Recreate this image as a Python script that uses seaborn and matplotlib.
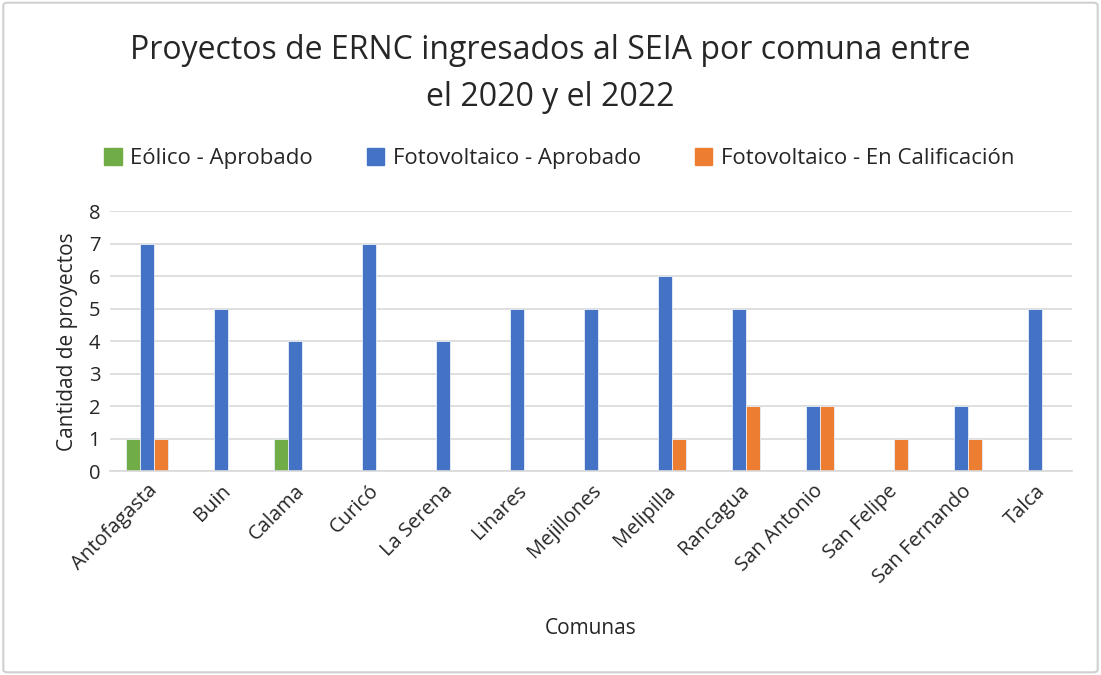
import matplotlib
matplotlib.use("Agg")
import matplotlib.pyplot as plt
from matplotlib.patches import FancyBboxPatch
import seaborn as sns
import pandas as pd

comunas = ["Antofagasta", "Buin", "Calama", "Curicó", "La Serena", "Linares",
           "Mejillones", "Melipilla", "Rancagua", "San Antonio", "San Felipe",
           "San Fernando", "Talca"]
eolico_aprobado = [1, 0, 1, 0, 0, 0, 0, 0, 0, 0, 0, 0, 0]
fv_aprobado = [7, 5, 4, 7, 4, 5, 5, 6, 5, 2, 0, 2, 5]
fv_calificacion = [1, 0, 0, 0, 0, 0, 0, 1, 2, 2, 1, 1, 0]
series = ["Eólico - Aprobado", "Fotovoltaico - Aprobado", "Fotovoltaico - En Calificación"]
colors = ["#70AD47", "#4472C4", "#ED7D31"]

rows = []
for name, vals in zip(series, [eolico_aprobado, fv_aprobado, fv_calificacion]):
    for c, v in zip(comunas, vals):
        rows.append({"Comuna": c, "Serie": name, "Proyectos": v})
df = pd.DataFrame(rows)

sns.set_theme(style="white")
plt.rcParams["font.family"] = ["Open Sans", "DejaVu Sans"]
text_color = "#262626"

fig = plt.figure(figsize=(11.01, 6.75), dpi=100)
ax = fig.add_axes([0.0999, 0.302, 0.8738, 0.385])

sns.barplot(data=df, x="Comuna", y="Proyectos", hue="Serie", hue_order=series,
            order=comunas, palette=colors, width=0.57, saturation=1,
            ax=ax, legend=False, errorbar=None, linewidth=0.6, edgecolor="#E8EEF8")

ax.set_ylim(0, 8)
ax.set_yticks(range(0, 9))
ax.set_xlim(-0.5, len(comunas) - 0.5)
ax.yaxis.grid(True, color="#D9D9D9", linewidth=1.2)
ax.set_axisbelow(True)
for s in ["top", "right", "left"]:
    ax.spines[s].set_visible(False)
ax.spines["bottom"].set_color("#D9D9D9")
ax.spines["bottom"].set_linewidth(1.2)
ax.tick_params(axis="both", length=0, labelsize=14.5, colors=text_color, pad=7)
plt.setp(ax.get_xticklabels(), rotation=45, ha="right", rotation_mode="anchor")
ax.set_xlabel("Comunas", fontsize=15, color=text_color, labelpad=22)
ax.set_ylabel("Cantidad de proyectos", fontsize=15, color=text_color, labelpad=8)

fig.text(0.5, 0.95, "Proyectos de ERNC ingresados al SEIA por comuna entre\nel 2020 y el 2022",
         ha="center", va="top", fontsize=23, color=text_color, linespacing=1.55)

handles = [plt.Rectangle((0, 0), 1, 1, color=c) for c in colors]
fig.legend(handles, series, loc="center", bbox_to_anchor=(0.508, 0.765), ncol=3,
           frameon=False, fontsize=16, handlelength=0.8, handleheight=0.8,
           columnspacing=2.4, handletextpad=0.4, labelcolor=text_color)

border = FancyBboxPatch((0.003, 0.004), 0.994, 0.992, boxstyle="round,pad=0,rounding_size=0.004",
                        transform=fig.transFigure, fill=False, edgecolor="#D0D0D0",
                        linewidth=1.5)
fig.patches.append(border)

fig.savefig("out.png", dpi=100, facecolor="white")
